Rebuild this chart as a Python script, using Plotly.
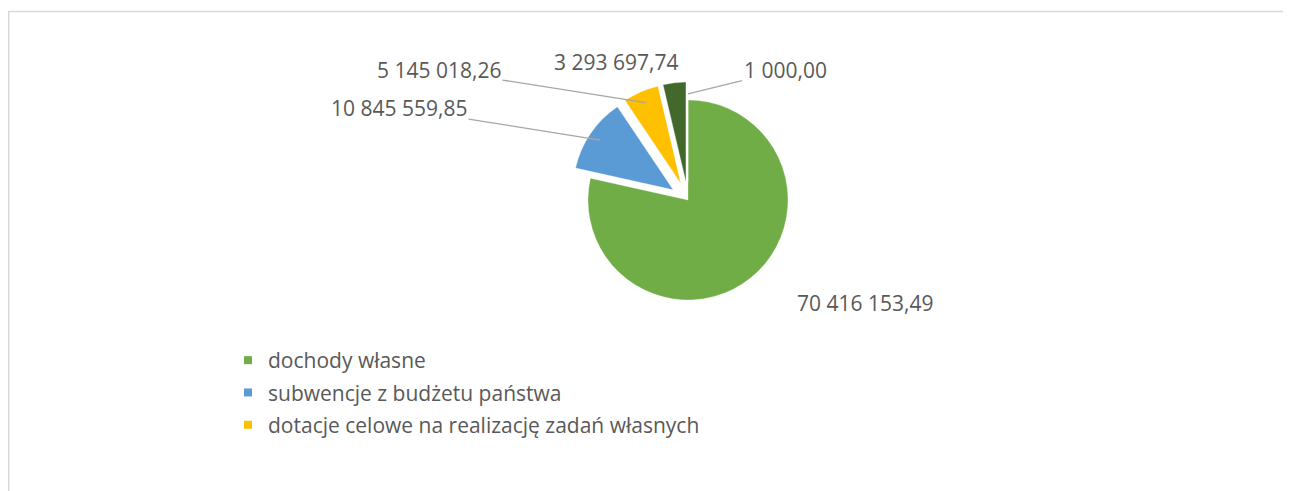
import math
import plotly.graph_objects as go

# Data
slice_names = ["dochody własne", "subwencje z budżetu państwa",
               "dotacje celowe na realizację zadań własnych", "pozycja 4", "pozycja 5"]
slice_values = [70416153.49, 10845559.85, 5145018.26, 3293697.74, 1000.00]
slice_colors = ["#70AD47", "#5B9BD5", "#FFC000", "#43682B", "#264478"]
slice_pull = [0, 0.18, 0.18, 0.18, 0.18]
legend_names = slice_names[:3]
legend_colors = slice_colors[:3]

# the page body has an 8px margin, so the figure is drawn 8px right/down
OFF = 8
W, H = 1291 - OFF, 491 - OFF

# label placement (page pixels) and whether a leader line is drawn
label_pos = [(865, 303), (399, 108), (439, 70), (616, 62), (785, 70)]
label_line = [False, True, True, False, True]

FONT = "Open Sans"
TXT = "#595959"

# pie centre / outer size in page pixels
PCX, PCY, PR = 688, 200, 100
half = PR * (1 + max(slice_pull))
fcx, fcy = PCX - OFF, PCY - OFF
dom_x = [(fcx - half) / W, (fcx + half) / W]
dom_y = [1 - (fcy + half) / H, 1 - (fcy - half) / H]


def fmt(v):
    return f"{v:,.2f}".replace(",", " ").replace(".", ",")


fig = go.Figure()
fig.add_trace(go.Pie(
    labels=slice_names,
    values=slice_values,
    sort=False,
    direction="clockwise",
    rotation=0,
    pull=slice_pull,
    marker=dict(colors=slice_colors, line=dict(color="rgba(255,255,255,0.6)", width=0.5)),
    textinfo="none",
    showlegend=False,
    hoverinfo="label+value",
    domain=dict(x=dom_x, y=dom_y),
))

for i, (n, c) in enumerate(zip(legend_names, legend_colors)):
    fig.add_trace(go.Scatter(
        x=[None], y=[None], mode="markers", name=n,
        legendgroup=f"g{i}",
        marker=dict(symbol="square", size=8, color=c),
    ))

# pie geometry (plotly shrinks the radius by the largest pull)
r = half / (1 + max(slice_pull))
total = sum(slice_values)

annotations = []
cum = 0.0
for v, p, (lx, ly), line in zip(slice_values, slice_pull, label_pos, label_line):
    mid = (cum + v / 2) / total * 2 * math.pi
    cum += v
    rr = r * (1 + p) * 0.9
    tx = fcx + rr * math.sin(mid)
    ty = fcy - rr * math.cos(mid)
    flx, fly = lx - OFF, ly - OFF
    if line:
        annotations.append(dict(
            x=tx / W, y=1 - ty / H, xref="paper", yref="paper",
            text=fmt(v), showarrow=True, arrowhead=0, arrowwidth=1.3,
            arrowcolor="#A6A6A6", ax=flx - tx, ay=fly - ty, standoff=0,
            xanchor="center", yanchor="middle",
            font=dict(family=FONT, size=21, color=TXT),
        ))
    else:
        annotations.append(dict(
            x=flx / W, y=1 - fly / H, xref="paper", yref="paper",
            text=fmt(v), showarrow=False,
            xanchor="center", yanchor="middle",
            font=dict(family=FONT, size=21, color=TXT),
        ))

fig.update_layout(
    width=W, height=H,
    margin=dict(l=0, r=0, t=0, b=0, autoexpand=False),
    paper_bgcolor="white", plot_bgcolor="white",
    font=dict(family=FONT, color=TXT),
    xaxis=dict(visible=False), yaxis=dict(visible=False),
    legend=dict(
        x=(228 - OFF) / W, y=1 - (340 - OFF) / H, xanchor="left", yanchor="top",
        font=dict(family=FONT, size=21, color=TXT),
        tracegroupgap=2, bgcolor="rgba(0,0,0,0)",
    ),
    annotations=annotations,
    shapes=[dict(type="rect", xref="paper", yref="paper",
                 x0=0.75 / W, x1=1.05, y0=-0.1, y1=1 - 3.5 / H,
                 line=dict(color="#D9D9D9", width=1.5), layer="below")],
)

fig.write_html("out.html")
